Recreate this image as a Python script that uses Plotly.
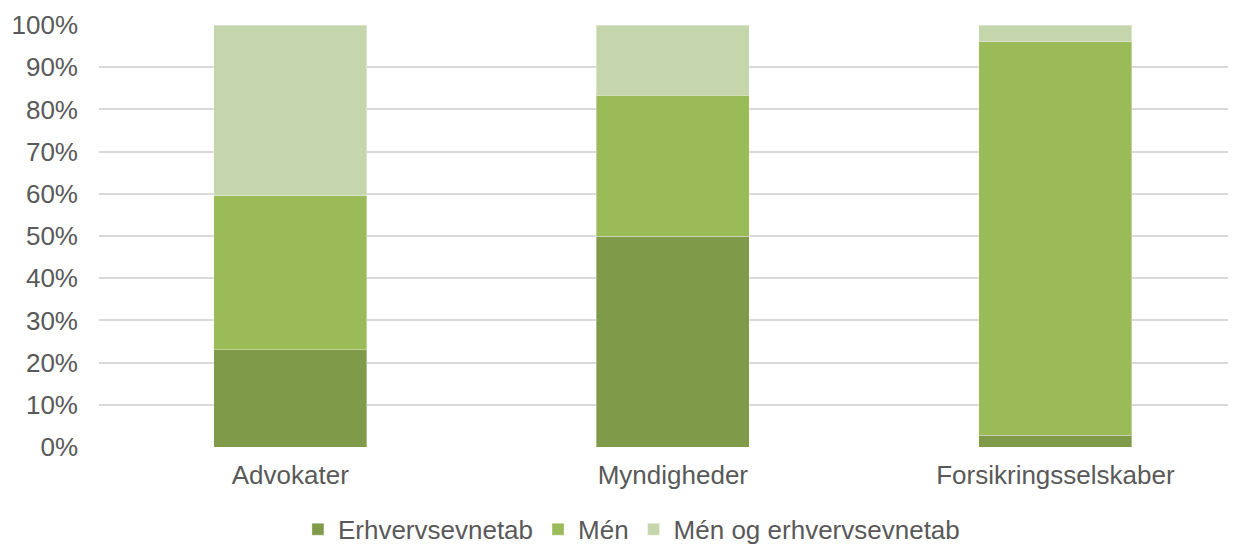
import plotly.graph_objects as go

categories = ["Advokater", "Myndigheder", "Forsikringsselskaber"]
series_names = ["Erhvervsevnetab", "Mén", "Mén og erhvervsevnetab"]
erhvervsevnetab = [0.23, 0.50, 0.028]
men = [0.365, 0.333, 0.932]
men_og_erhverv = [0.405, 0.167, 0.040]
y_ticks = [0, 0.1, 0.2, 0.3, 0.4, 0.5, 0.6, 0.7, 0.8, 0.9, 1.0]

colors = ["#7f9a48", "#9bbb59", "#c6d6ac"]
values = [erhvervsevnetab, men, men_og_erhverv]

fig = go.Figure()
for name, vals, col in zip(series_names, values, colors):
    fig.add_trace(go.Bar(
        x=list(range(len(categories))), y=vals, name=name,
        marker=dict(color=col, line=dict(color="rgba(255,255,255,0.35)", width=1)),
        width=0.4,
    ))

fig.update_layout(
    barmode="stack",
    width=1236, height=545,
    margin=dict(l=91, r=0, t=17, b=106),
    paper_bgcolor="white", plot_bgcolor="white",
    font=dict(family="Liberation Sans, Arial, sans-serif", size=26, color="#595959"),
    showlegend=True,
    legend=dict(orientation="h", x=0.465, xanchor="center", y=-0.195, yanchor="middle",
                font=dict(size=26, color="#595959"), itemwidth=30,
                traceorder="normal"),
)
fig.update_xaxes(
    tickmode="array", tickvals=list(range(len(categories))), ticktext=categories,
    range=[-0.5, 2.493], showgrid=False, zeroline=False, showline=False, ticks="",
    ticklabelstandoff=10,
)
fig.update_yaxes(
    range=[0, 1.0], tickvals=y_ticks, tickformat=".0%",
    showgrid=True, gridcolor="#d9d9d9", gridwidth=1.5, zeroline=False,
    showline=False, ticks="", ticklabelstandoff=20,
)
fig.write_html("out.html")
